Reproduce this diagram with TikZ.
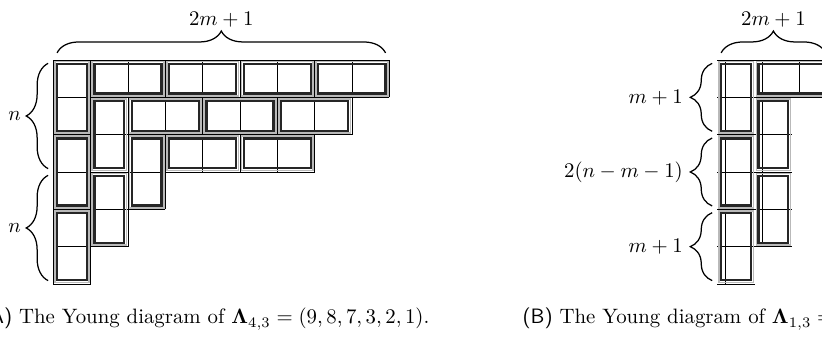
\documentclass[tikz,border=0pt]{standalone}
\usepackage{amsmath,amssymb}
\usepackage{tikz}
\usepackage{xcolor}
\usetikzlibrary{decorations.pathreplacing}

\tikzset{
  cellgrid/.style={line width=0.4pt, black},
  domout/.style={line width=0.7pt, gray!55},
  domin/.style={line width=1.1pt, black!85},
  brace/.style={semithick, decorate, decoration={brace, amplitude=10.5pt}},
  bracelabel/.style={inner sep=1pt}
}

\begin{document}
\begin{tikzpicture}[scale=0.63]

  % Frame
  \useasboundingbox (-1.428,1.607) rectangle (20.592,-7.715);
  \clip (-1.428,1.607) rectangle (20.592,-7.715);

  % Diagram (A): rows 9,8,7,3,2,1
  \draw[cellgrid] (0,0) grid (9,-1);
  \draw[cellgrid] (0,-1) grid (8,-2);
  \draw[cellgrid] (0,-2) grid (7,-3);
  \draw[cellgrid] (0,-3) grid (3,-4);
  \draw[cellgrid] (0,-4) grid (2,-5);
  \draw[cellgrid] (0,-5) grid (1,-6);

  % Dominoes (A): column/row/width/height
  \foreach \x/\y/\w/\h in {0/0/1/2, 0/2/1/2, 0/4/1/2,
                           1/0/2/1, 3/0/2/1, 5/0/2/1, 7/0/2/1,
                           1/1/1/2, 1/3/1/2,
                           2/1/2/1, 4/1/2/1, 6/1/2/1,
                           2/2/1/2, 3/2/2/1, 5/2/2/1} {
    \draw[domout] (\x+.04,-\y-.04) rectangle (\x+\w-.04,-\y-\h+.04);
    \draw[domin] (\x+.1,-\y-.1) rectangle (\x+\w-.1,-\y-\h+.1);
  }

  % Braces & labels (A)
  \draw[brace] (0.1,0.19) -- (8.9,0.19);
  \draw[brace] (-0.14,-2.91) -- (-0.14,-0.09);
  \draw[brace] (-0.14,-5.91) -- (-0.14,-3.09);

  \node[bracelabel] (widthA) at (4.5,1.08) {$2m+1$};
  \node[bracelabel, anchor=east] (upperA) at (-0.8,-1.5) {$n$};
  \node[bracelabel, anchor=east] (lowerA) at (-0.8,-4.5) {$n$};

  % Diagram (B): rows 3,2,2,2,2,1
  \draw[cellgrid] (17.79,0) grid ++(3,-1);
  \draw[cellgrid] (17.79,-1) grid ++(2,-1);
  \draw[cellgrid] (17.79,-2) grid ++(2,-1);
  \draw[cellgrid] (17.79,-3) grid ++(2,-1);
  \draw[cellgrid] (17.79,-4) grid ++(2,-1);
  \draw[cellgrid] (17.79,-5) grid ++(1,-1);

  % Dominoes (B)
  \foreach \x/\y/\w/\h in {0/0/1/2, 0/2/1/2, 0/4/1/2,
                           1/0/2/1, 1/1/1/2, 1/3/1/2} {
    \draw[domout] (17.79+\x+.04,-\y-.04) rectangle (17.79+\x+\w-.04,-\y-\h+.04);
    \draw[domin] (17.79+\x+.1,-\y-.1) rectangle (17.79+\x+\w-.1,-\y-\h+.1);
  }

  % Braces & labels (B)
  \draw[brace] (17.89,0.19) -- (20.69,0.19);
  \draw[brace] (17.65,-1.91) -- (17.65,-0.09);
  \draw[brace] (17.65,-3.91) -- (17.65,-2.09);
  \draw[brace] (17.65,-5.91) -- (17.65,-4.09);

  \node[bracelabel] (widthB) at (19.29,1.08) {$2m+1$};
  \node[bracelabel, anchor=east] (topB) at (16.93,-1) {$m+1$};
  \node[bracelabel, anchor=east] (midB) at (16.93,-3) {$2(n-m-1)$};
  \node[bracelabel, anchor=east] (lowB) at (16.93,-5) {$m+1$};

  % Captions
  \node[anchor=base west, inner sep=0] (capA) at (-1.92,-7.07)
    {\textsf{(A)} The Young diagram of $\mathbf{\Lambda}_{4,3} = (9,8,7,3,2,1)$.};
  \node[anchor=base west, inner sep=0] (capB) at (12.56,-7.07)
    {\textsf{(B)} The Young diagram of $\mathbf{\Lambda}_{1,3} =$};

\end{tikzpicture}
\end{document}
